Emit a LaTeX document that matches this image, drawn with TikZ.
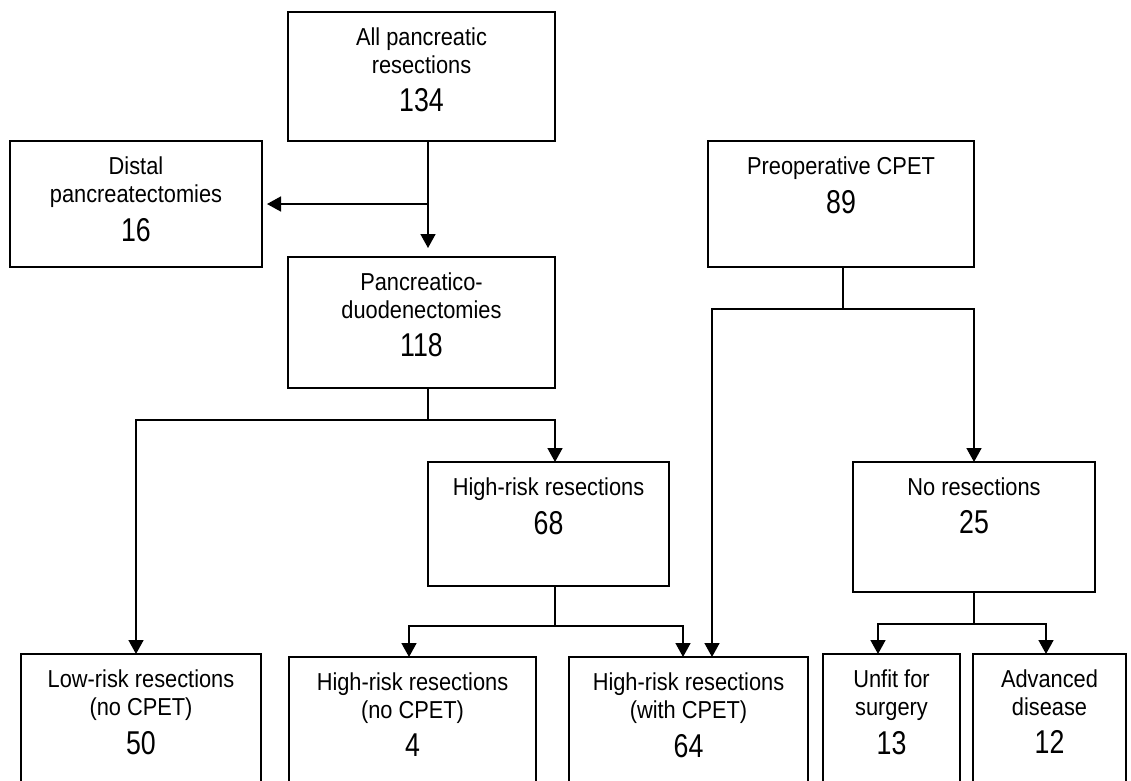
\documentclass[tikz,border=0pt]{standalone}
\usepackage{fontspec}
\setmainfont[FakeStretch=0.89]{Liberation Sans}
\newfontfamily\numfont[FakeStretch=0.81]{Liberation Sans}
\usetikzlibrary{arrows.meta}

\tikzset{
  box/.style={draw, line width=1.6pt, anchor=north west, inner sep=0pt, outer sep=0pt},
  txt/.style={anchor=north, align=center, inner sep=0pt, yshift=-15.5pt,
              font=\fontsize{24.5}{28}\selectfont,
              execute at begin node={\rule{0pt}{19pt}}},
  link/.style={line width=1.6pt},
  arr/.style={line width=1.6pt, -{Triangle[width=15pt,length=14pt]}},
}
\newcommand{\nm}[1]{\\[10pt]{\numfont\fontsize{33}{33}\selectfont #1}}

\begin{document}
\begin{tikzpicture}[x=1pt,y=-1pt]

    %\draw [help lines] (0,0) grid[step=50] (1131,780);
    \useasboundingbox (0,0) rectangle (1131,780);
    \clip (0,0) rectangle (1131,780);

    \path   (288,12)  node (all)    [box, minimum width=267, minimum height=129] {}
            (10,141)  node (distal) [box, minimum width=252, minimum height=126] {}
            (288,257) node (pd)     [box, minimum width=267, minimum height=131] {}
            (708,141) node (cpet)   [box, minimum width=266, minimum height=126] {}
            (428,462) node (hr)     [box, minimum width=241, minimum height=124] {}
            (853,462) node (nores)  [box, minimum width=242, minimum height=130] {}
            (21,654)  node (low)    [box, minimum width=240, minimum height=200] {}
            (289,657) node (hrno)   [box, minimum width=247, minimum height=200] {}
            (569,657) node (hrcp)   [box, minimum width=239, minimum height=200] {}
            (823,654) node (unfit)  [box, minimum width=137, minimum height=200] {}
            (973,654) node (adv)    [box, minimum width=153, minimum height=200] {};

    % box texts
    \path   (all.north)    node (allt)    [txt] {All pancreatic\\resections\nm{134}}
            (distal.north) node (distalt) [txt] {Distal\\pancreatectomies\nm{16}}
            (pd.north)     node (pdt)     [txt] {Pancreatico-\\duodenectomies\nm{118}}
            (cpet.north)   node (cpett)   [txt] {Preoperative CPET\nm{89}}
            (hr.north)     node (hrt)     [txt] {High-risk resections\nm{68}}
            (nores.north)  node (norest)  [txt] {No resections\nm{25}}
            (low.north)    node (lowt)    [txt] {Low-risk resections\\(no CPET)\nm{50}}
            (hrno.north)   node (hrnot)   [txt] {High-risk resections\\(no CPET)\nm{4}}
            (hrcp.north)   node (hrcpt)   [txt] {High-risk resections\\(with CPET)\nm{64}}
            (unfit.north)  node (unfitt)  [txt] {Unfit for\\surgery\nm{13}}
            (adv.north)    node (advt)    [txt] {Advanced\\disease\nm{12}};

    \draw[arr, shorten >=9pt] ([xshift=6.5]all.south) -- ([xshift=6.5]pd.north);
    \draw[arr, shorten >=5pt] ([xshift=6.5]all.south |- distal.east) -- (distal.east);

    \draw[link] ([xshift=6.5]pd.south) -- ++(0,32) coordinate (pdsplit);
    \draw[arr] (pdsplit) -| ([xshift=6.5]hr.north);
    \draw[arr] (pdsplit) -| ([xshift=-5]low.north);

    \draw[link] ([xshift=6.5]hr.south) -- ++(0,40) coordinate (hrsplit);
    \draw[arr] (hrsplit) -| ([xshift=-3.5]hrno.north);
    \draw[arr] (hrsplit) -| ([xshift=-5.5]hrcp.north);

    \draw[link] ([xshift=2]cpet.south) -- ++(0,42) coordinate (cpetsplit);
    \draw[arr] (cpetsplit) -| ([xshift=23.5]hrcp.north);
    \draw[arr] (cpetsplit) -| (nores.north);

    \draw[link] (nores.south) -- ++(0,32) coordinate (nrsplit);
    \draw[arr] (nrsplit) -| ([xshift=-13.5]unfit.north);
    \draw[arr] (nrsplit) -| ([xshift=-3.5]adv.north);

\end{tikzpicture}
\end{document}
